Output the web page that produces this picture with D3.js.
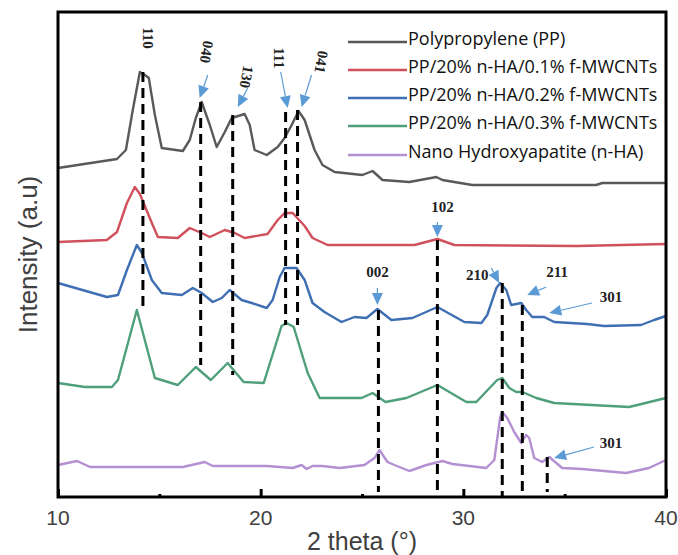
<!DOCTYPE html>
<html>
<head>
<meta charset="utf-8">
<script src="https://cdn.jsdelivr.net/npm/d3@7/dist/d3.min.js"></script>
<style>
	body { margin: 0; background: #fff; }
	svg { display: block; }
</style>
</head>
<body>
<div id="chart"></div>
<script>
// XRD patterns, 2 theta (deg) vs intensity (a.u., traces offset as in the figure)
var ppTheta = [10, 12.91, 13.35, 13.69, 14.04, 14.29, 14.48, 14.78, 15.12, 16.16, 16.5, 16.8, 17.09, 17.49, 17.83, 18.23, 18.57, 19.21, 19.46, 19.7, 20.3, 20.84, 21.18, 21.53, 21.87, 22.17, 22.66, 23.05, 23.65, 25.02, 25.52, 26.01, 27.34, 28.67, 28.97, 30.44, 36.55, 36.85, 40];
var ppInt = [329, 338, 347, 387, 425, 422, 419, 382, 349, 346, 357, 379, 395, 372, 350, 365, 379, 383, 372, 347, 342, 350, 359, 372, 386, 377, 347, 332, 325, 322, 326, 317, 315, 320, 317, 312, 312, 314, 314];

var cnt1Theta = [10, 12.41, 12.91, 13.4, 13.79, 14.04, 14.63, 14.93, 15.91, 16.5, 17.09, 17.49, 18.23, 18.72, 19.21, 20.34, 20.84, 21.18, 21.58, 22.17, 22.56, 23.3, 27.59, 28.72, 29.56, 35.62, 40];
var cnt1Int = [255, 257, 265, 294, 310, 303, 274, 260, 259, 269, 264, 260, 267, 264, 259, 263, 277, 284, 284, 271, 259, 252, 252, 258, 252, 251, 253];

var cnt2Theta = [10, 12.41, 12.96, 13.4, 13.89, 14.14, 14.63, 15.12, 16.11, 16.65, 17.09, 17.64, 18.08, 18.47, 19.06, 19.56, 20.3, 20.59, 20.94, 21.18, 21.77, 22.17, 22.56, 23.15, 23.99, 24.63, 25.22, 25.76, 26.45, 27.49, 28.72, 30.05, 30.89, 31.18, 31.63, 31.82, 32.12, 32.36, 32.86, 33.1, 33.4, 33.99, 34.48, 36.11, 36.95, 38.77, 39.41, 40];
var cnt2Int = [214, 200, 202, 227, 252, 244, 217, 204, 202, 209, 204, 195, 199, 207, 197, 194, 189, 197, 220, 229, 229, 217, 194, 185, 175, 180, 179, 188, 177, 179, 190, 175, 174, 182, 209, 214, 207, 192, 194, 187, 180, 180, 175, 173, 171, 172, 177, 181];

var cnt3Theta = [10, 11.33, 12.66, 12.96, 13.89, 14.78, 15.91, 16.8, 17.54, 18.37, 19.16, 20.15, 21.03, 21.28, 21.63, 22.32, 22.91, 24.98, 25.52, 26.16, 27.19, 28.72, 30.15, 30.64, 31.67, 31.92, 32.27, 32.61, 32.91, 33.6, 34.48, 38.18, 40];
var cnt3Int = [114, 110, 110, 117, 187, 119, 112, 130, 117, 134, 115, 114, 171, 174, 170, 124, 99, 99, 104, 95, 99, 112, 95, 95, 117, 119, 109, 105, 105, 99, 94, 90, 99];

var haTheta = [10, 10.94, 11.58, 16.16, 17.24, 17.64, 20.3, 21.58, 22.02, 22.27, 22.56, 23.05, 23.89, 25.12, 25.62, 25.86, 26.26, 26.6, 27.34, 28.18, 28.97, 29.46, 31.13, 31.53, 31.82, 31.92, 32.17, 32.51, 32.86, 33.1, 33.25, 33.5, 33.89, 34.24, 34.88, 35.86, 38.03, 39.16, 40];
var haInt = [32, 36, 30, 30, 35, 31, 31, 29, 32, 28, 31, 31, 29, 32, 39, 47, 35, 32, 26, 32, 36, 33, 29, 37, 80, 85, 79, 65, 54, 62, 59, 39, 35, 40, 29, 28, 24, 29, 37];

var seriesNames = ["Polypropylene (PP)", "PP/20% n-HA/0.1% f-MWCNTs", "PP/20% n-HA/0.2% f-MWCNTs", "PP/20% n-HA/0.3% f-MWCNTs", "Nano Hydroxyapatite (n-HA)"];
var seriesColors = ["#595959", "#d0505c", "#3f6fb3", "#4e9f7a", "#b48fd2"];

// dashed reflection markers
var peakHkl = ["110", "040", "130", "111", "041", "002", "102", "210", "211", "301"];
var peakTheta = [14.19, 17.04, 18.62, 21.23, 21.82, 25.81, 28.72, 31.92, 32.91, 34.14];
var peakTop = [425, 395, 382, 385, 387, 187, 257, 214, 192, 40];
var peakBottom = [189, 132, 122, 172, 172, 5, 2, 0, 5, 5];

// hkl labels
var labelText = ["110", "040", "130", "111", "041", "102", "002", "210", "211", "301", "301"];
var labelTheta = [14.43, 17.34, 19.31, 20.94, 23.0, 28.97, 25.76, 30.69, 34.63, 37.29, 37.29];
var labelInt = [459, 445, 420, 439, 435, 290, 225, 222, 225, 200, 54];
var labelAngle = [90, 100, 100, 90, 100, 0, 0, 0, 0, 0, 0];

// blue arrows (from -> tip)
var arrowFromTheta = [17.39, 19.36, 20.99, 22.51, 28.72, 25.76, 31.38, 34.09, 36.35, 36.45];
var arrowFromInt = [422, 409, 425, 422, 275, 209, 229, 210, 194, 50];
var arrowToTheta = [16.99, 18.87, 21.33, 22.02, 28.72, 25.76, 31.77, 33.15, 34.24, 34.48];
var arrowToInt = [399, 390, 389, 390, 260, 192, 214, 202, 184, 39];

var xTicks = [10, 20, 30, 40];
var xMinor = [15, 25, 35];

var width = 678,
	height = 555,
	margin = {top: 12, right: 12, bottom: 58, left: 58};

var series = [
	{x: ppTheta, y: ppInt},
	{x: cnt1Theta, y: cnt1Int},
	{x: cnt2Theta, y: cnt2Int},
	{x: cnt3Theta, y: cnt3Int},
	{x: haTheta, y: haInt}
];

var svg = d3.select("#chart").append("svg")
	.attr("width", width)
	.attr("height", height);

var x = d3.scaleLinear().domain([10, 40]).range([margin.left, width - margin.right]);
var y = d3.scaleLinear().domain([0, 485]).range([height - margin.bottom, margin.top]);

var line = d3.line()
	.x(function(d) { return x(d[0]); })
	.y(function(d) { return y(d[1]); });

// traces
series.forEach(function(s, i) {
	var pts = s.x.map(function(v, j) { return [v, s.y[j]]; });
	svg.append("path")
		.datum(pts)
		.attr("d", line)
		.attr("fill", "none")
		.attr("stroke", seriesColors[i])
		.attr("stroke-width", 2.4)
		.attr("stroke-linejoin", "round");
});

// dashed reflection lines
svg.selectAll("line.peak")
	.data(peakTheta)
	.enter()
	.append("line")
	.attr("class", "peak")
	.attr("x1", function(d) { return x(d); })
	.attr("x2", function(d) { return x(d); })
	.attr("y1", function(d, i) { return y(peakTop[i]); })
	.attr("y2", function(d, i) { return y(peakBottom[i]); })
	.attr("stroke", "#000")
	.attr("stroke-width", 3)
	.attr("stroke-dasharray", "10,6");

// arrows
var headLen = 12, headW = 5.5;
arrowToTheta.forEach(function(t, i) {
	var x0 = x(arrowFromTheta[i]), y0 = y(arrowFromInt[i]),
		x1 = x(t), y1 = y(arrowToInt[i]);
	var dx = x1 - x0, dy = y1 - y0, len = Math.sqrt(dx * dx + dy * dy);
	var ux = dx / len, uy = dy / len;
	var bx = x1 - ux * headLen, by = y1 - uy * headLen;
	if (len > headLen + 1) {
		svg.append("line")
			.attr("x1", x0).attr("y1", y0)
			.attr("x2", bx).attr("y2", by)
			.attr("stroke", "#5b9bd5")
			.attr("stroke-width", 1.2);
	}
	svg.append("path")
		.attr("d", "M" + x1 + "," + y1
			+ "L" + (bx - uy * headW) + "," + (by + ux * headW)
			+ "L" + (bx + uy * headW) + "," + (by - ux * headW) + "Z")
		.attr("fill", "#5b9bd5");
});

// hkl labels
svg.selectAll("text.hkl")
	.data(labelText)
	.enter()
	.append("text")
	.attr("class", "hkl")
	.attr("transform", function(d, i) {
		return "translate(" + x(labelTheta[i]) + "," + y(labelInt[i]) + ") rotate(" + labelAngle[i] + ")";
	})
	.attr("text-anchor", "middle")
	.attr("dy", "0.35em")
	.style("font-family", "'Liberation Serif', 'Times New Roman', serif")
	.style("font-weight", "bold")
	.style("font-size", "15px")
	.attr("fill", "#222")
	.text(function(d) { return d; });

// frame
svg.append("rect")
	.attr("x", x(10))
	.attr("y", y(485))
	.attr("width", x(40) - x(10))
	.attr("height", y(0) - y(485))
	.attr("fill", "none")
	.attr("stroke", "#000")
	.attr("stroke-width", 3);

// x axis: ticks drawn inward
var xAxis = d3.axisTop(x)
	.tickValues(xTicks)
	.tickSize(8)
	.tickFormat("");
svg.append("g")
	.attr("transform", "translate(0," + y(0) + ")")
	.call(xAxis)
	.call(function(g) {
		g.select(".domain").remove();
		g.selectAll("line").attr("stroke", "#000").attr("stroke-width", 3);
	});

svg.append("g")
	.attr("transform", "translate(0," + y(0) + ")")
	.call(d3.axisTop(x).tickValues(xMinor).tickSize(3).tickFormat(""))
	.call(function(g) {
		g.select(".domain").remove();
		g.selectAll("line").attr("stroke", "#000").attr("stroke-width", 3);
	});

svg.selectAll("text.xtick")
	.data(xTicks)
	.enter()
	.append("text")
	.attr("class", "xtick")
	.attr("x", function(d) { return x(d); })
	.attr("y", y(0) + 28)
	.attr("text-anchor", "middle")
	.style("font-family", "'Liberation Sans', Arial, sans-serif")
	.style("font-size", "21px")
	.attr("fill", "#404040")
	.text(function(d) { return d; });

svg.append("text")
	.attr("x", (x(10) + x(40)) / 2)
	.attr("y", 550)
	.attr("text-anchor", "middle")
	.style("font-family", "'Liberation Sans', Arial, sans-serif")
	.style("font-size", "25px")
	.attr("fill", "#404040")
	.text("2 theta (\u00b0)");

svg.append("text")
	.attr("transform", "translate(28," + ((y(0) + y(485)) / 2) + ") rotate(-90)")
	.attr("text-anchor", "middle")
	.attr("dy", "0.35em")
	.style("font-family", "'Liberation Sans', Arial, sans-serif")
	.style("font-size", "26px")
	.attr("fill", "#404040")
	.text("Intensity (a.u)");

// legend
var legendRowY = [39, 67, 95, 123, 152];
var legend = svg.append("g");
seriesNames.forEach(function(name, i) {
	legend.append("line")
		.attr("x1", 348).attr("x2", 407)
		.attr("y1", legendRowY[i] + 3).attr("y2", legendRowY[i] + 3)
		.attr("stroke", seriesColors[i])
		.attr("stroke-width", 2.4);
	legend.append("text")
		.attr("x", 408)
		.attr("y", legendRowY[i])
		.attr("dy", "0.35em")
		.style("font-family", "'Open Sans', sans-serif")
		.style("font-size", "18px")
		.attr("fill", "#111")
		.text(name);
});
</script>
</body>
</html>
